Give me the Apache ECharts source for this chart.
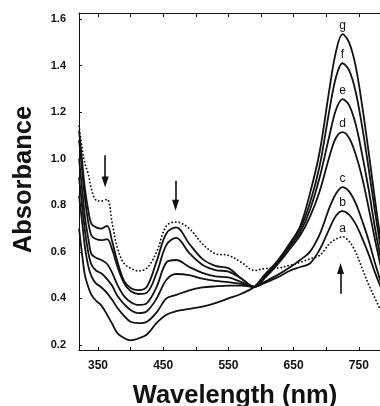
<!DOCTYPE html>
<html lang="en">
<head>
<meta charset="UTF-8">
<title>Absorbance spectra</title>
<script src="https://cdn.jsdelivr.net/npm/echarts@6/dist/echarts.min.js"></script>
<style>
  html, body { margin: 0; padding: 0; background: #fff; }
  #main { width: 380px; height: 406px; }
</style>
</head>
<body>
<div id="main"></div>
<script type="text/javascript">
    // wavelengths (nm) shared by all curves
    var wavelength = [321, 326, 330, 335, 340, 347, 355, 364, 372, 380, 390, 400, 412, 425, 440, 455, 470, 490, 510, 530, 550, 570, 590, 605, 625, 645, 660, 675, 690, 705, 715, 725, 735, 745, 755, 765, 775, 785];

    // absorbance, curve a is the dotted one
    var curveA = [1.14, 1.04, 0.98, 0.935, 0.87, 0.822, 0.818, 0.825, 0.72, 0.615, 0.55, 0.53, 0.518, 0.53, 0.60, 0.712, 0.728, 0.70, 0.635, 0.592, 0.585, 0.555, 0.52, 0.528, 0.53, 0.543, 0.555, 0.57, 0.585, 0.635, 0.655, 0.665, 0.645, 0.60, 0.53, 0.46, 0.40, 0.34];
    var curveB = [1.12, 0.98, 0.87, 0.78, 0.72, 0.705, 0.70, 0.712, 0.642, 0.556, 0.475, 0.445, 0.436, 0.45, 0.56, 0.68, 0.705, 0.635, 0.57, 0.54, 0.53, 0.485, 0.45, 0.465, 0.49, 0.52, 0.535, 0.55, 0.61, 0.70, 0.755, 0.775, 0.76, 0.72, 0.66, 0.59, 0.51, 0.44];
    var curveC = [1.08, 0.94, 0.83, 0.73, 0.67, 0.655, 0.65, 0.655, 0.608, 0.535, 0.466, 0.432, 0.419, 0.425, 0.51, 0.63, 0.66, 0.595, 0.545, 0.522, 0.515, 0.485, 0.45, 0.47, 0.50, 0.535, 0.565, 0.60, 0.675, 0.79, 0.85, 0.878, 0.86, 0.81, 0.735, 0.65, 0.55, 0.46];
    var curveD = [1.00, 0.86, 0.75, 0.66, 0.59, 0.575, 0.565, 0.548, 0.509, 0.457, 0.41, 0.385, 0.372, 0.38, 0.45, 0.555, 0.565, 0.535, 0.51, 0.495, 0.49, 0.47, 0.45, 0.485, 0.545, 0.615, 0.67, 0.75, 0.86, 1.01, 1.09, 1.114, 1.09, 1.02, 0.92, 0.79, 0.65, 0.52];
    var curveE = [0.92, 0.79, 0.69, 0.60, 0.545, 0.52, 0.508, 0.483, 0.453, 0.41, 0.376, 0.35, 0.337, 0.345, 0.40, 0.48, 0.505, 0.50, 0.485, 0.475, 0.47, 0.462, 0.45, 0.49, 0.55, 0.625, 0.685, 0.78, 0.92, 1.10, 1.21, 1.256, 1.23, 1.15, 1.02, 0.87, 0.70, 0.55];
    var curveF = [0.84, 0.72, 0.62, 0.54, 0.495, 0.465, 0.448, 0.423, 0.393, 0.359, 0.325, 0.30, 0.294, 0.30, 0.34, 0.40, 0.415, 0.435, 0.447, 0.452, 0.455, 0.455, 0.45, 0.495, 0.555, 0.635, 0.70, 0.81, 0.97, 1.21, 1.35, 1.41, 1.38, 1.29, 1.14, 0.96, 0.77, 0.59];
    var curveG = [0.70, 0.58, 0.50, 0.45, 0.415, 0.39, 0.37, 0.33, 0.29, 0.25, 0.23, 0.22, 0.228, 0.245, 0.295, 0.33, 0.345, 0.355, 0.365, 0.38, 0.40, 0.42, 0.45, 0.50, 0.56, 0.64, 0.71, 0.85, 1.03, 1.30, 1.46, 1.535, 1.50, 1.40, 1.23, 1.03, 0.82, 0.62];

    var xTicks = [350, 400, 450, 500, 550, 600, 650, 700, 750];
    var xLabels = [350, 450, 550, 650, 750];
    var yTicks = [0.2, 0.4, 0.6, 0.8, 1.0, 1.2, 1.4, 1.6];
    var peakNm = 725;

    var ink = '#111';
    var font = 'Liberation Sans, Arial, sans-serif';
    var peakIdx = wavelength.indexOf(peakNm);

    function pairs(vals) {
        return wavelength.map(function (w, i) { return [w, vals[i]]; });
    }

    function curve(name, vals, dotted) {
        return {
            name: name,
            type: 'line',
            data: pairs(vals),
            showSymbol: false,
            smooth: 0.35,
            silent: true,
            animation: false,
            lineStyle: dotted
                ? { color: ink, width: 1.8, type: [0.1, 3.5], cap: 'round' }
                : { color: ink, width: 1.8 },
            markPoint: {
                symbol: 'circle',
                symbolSize: 1,
                itemStyle: { color: 'rgba(0,0,0,0)' },
                label: {
                    show: true, position: 'top', distance: 2, formatter: name,
                    color: ink, fontSize: 12, fontFamily: font
                },
                data: [{ coord: [wavelength[peakIdx], vals[peakIdx]] }]
            }
        };
    }

    var series = [
        curve('a', curveA, true),
        curve('b', curveB),
        curve('c', curveC),
        curve('d', curveD),
        curve('e', curveE),
        curve('f', curveF),
        curve('g', curveG)
    ];

    // the three arrows, in data units
    series[6].markLine = {
        silent: true,
        animation: false,
        symbol: ['none', 'triangle'],
        symbolSize: [7, 11],
        label: { show: false },
        lineStyle: { color: ink, width: 1.6, type: 'solid' },
        data: [
            [{ coord: [361, 1.015] }, { coord: [361, 0.90] }],
            [{ coord: [469, 0.905] }, { coord: [469, 0.80] }],
            [{ coord: [722, 0.42] }, { coord: [722, 0.528] }]
        ]
    };

    var myChart = echarts.init(document.getElementById('main'));
    var option = {
        backgroundColor: '#fff',
        animation: false,
        grid: { left: 79, right: 0, top: 13, bottom: 56, outerBoundsMode: 'none' },
        xAxis: [{
            type: 'value',
            min: 320.9,
            max: 782.5,
            name: 'Wavelength (nm)',
            nameLocation: 'middle',
            nameGap: 33,
            nameTextStyle: { fontSize: 25.5, fontWeight: 'bold', color: ink, fontFamily: font, padding: [0, 0, 0, 11] },
            axisLine: { lineStyle: { color: ink, width: 1.2 } },
            axisTick: { inside: true, length: 3, customValues: xTicks, lineStyle: { color: ink } },
            axisLabel: {
                customValues: xLabels, margin: 10, color: ink,
                fontSize: 12, fontWeight: 'bold', fontFamily: font
            },
            splitLine: { show: false }
        }, {
            type: 'value',
            position: 'top',
            min: 320.9,
            max: 782.5,
            axisLine: { lineStyle: { color: ink, width: 1.2 } },
            axisTick: { inside: true, length: 4, customValues: xTicks, lineStyle: { color: ink } },
            axisLabel: { show: false },
            splitLine: { show: false }
        }],
        yAxis: {
            type: 'value',
            min: 0.1785,
            max: 1.6258,
            name: 'Absorbance',
            nameLocation: 'middle',
            nameGap: 42,
            nameTextStyle: { fontSize: 25.5, fontWeight: 'bold', color: ink, fontFamily: font, padding: [0, 0, 0, 4] },
            axisLine: { show: true, lineStyle: { color: ink, width: 1 } },
            axisTick: { show: true, inside: true, length: 3, customValues: yTicks, lineStyle: { color: ink } },
            axisLabel: {
                customValues: yTicks, margin: 13, color: ink,
                fontSize: 11, fontWeight: 'bold', fontFamily: font,
                formatter: function (v) { return v.toFixed(1); }
            },
            splitLine: { show: false }
        },
        series: series
    };
    myChart.setOption(option);
</script>
</body>
</html>
